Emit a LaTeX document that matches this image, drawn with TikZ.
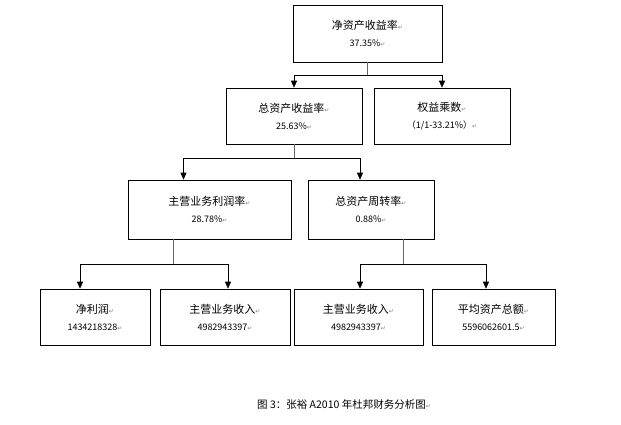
\documentclass[tikz,border=0pt]{standalone}
\usepackage{fontspec}
\setmainfont{Liberation Sans}
\newfontfamily\cjk{Noto Sans CJK SC}
\newfontfamily\dv{DejaVu Sans}
\usetikzlibrary{arrows.meta}
\newcommand{\pmark}{{\dv\color{gray}\fontsize{6}{6}\selectfont ↵}}
\begin{document}
\begin{tikzpicture}[x=1pt,y=-1pt,
  box/.style={draw,line width=0.6pt,inner sep=0pt,align=center,font=\cjk\fontsize{11}{17}\selectfont},
  num/.style={font=\fontsize{9}{11}\selectfont},
  conn/.style={line width=0.6pt,-{Triangle[length=7pt,width=6pt]}},
  stem/.style={line width=0.6pt,gray!80!black}]
\useasboundingbox (0,0) rectangle (621,424);
\node[box,minimum width=149,minimum height=57] (a) at (367.5,33.5) {净资产收益率\pmark\\{\fontsize{9}{11}\selectfont 37.35\%}\pmark};
\node[box,minimum width=136,minimum height=56] (b) at (294,116) {总资产收益率\pmark\\{\fontsize{9}{11}\selectfont 25.63\%}\pmark};
\node[box,minimum width=136,minimum height=56] (c) at (442,116) {权益乘数\pmark\\{\fontsize{9}{11}\selectfont （1/1-33.21\%）}\pmark};
\node[box,minimum width=163,minimum height=59] (d) at (209.5,209.5) {主营业务利润率\pmark\\{\fontsize{9}{11}\selectfont 28.78\%}\pmark};
\node[box,minimum width=126,minimum height=59] (e) at (371,209.5) {总资产周转率\pmark\\{\fontsize{9}{11}\selectfont 0.88\%}\pmark};
\node[box,minimum width=110,minimum height=56] (f) at (95,317) {净利润\pmark\\{\fontsize{9}{11}\selectfont 1434218328}\pmark};
\node[box,minimum width=130,minimum height=56] (g) at (225,317) {主营业务收入\pmark\\{\fontsize{9}{11}\selectfont 4982943397}\pmark};
\node[box,minimum width=129,minimum height=56] (h) at (358.5,317) {主营业务收入\pmark\\{\fontsize{9}{11}\selectfont 4982943397}\pmark};
\node[box,minimum width=123,minimum height=56] (i) at (493.5,317) {平均资产总额\pmark\\{\fontsize{9}{11}\selectfont 5596062601.5}\pmark};
\node[font=\cjk\fontsize{10.5}{12}\selectfont] (cap) at (344,405) {图 3：张裕 A2010 年杜邦财务分析图\pmark};
\coordinate (ja) at (367,75);
\coordinate (jb) at (294,158);
\coordinate (jd) at (173,264);
\coordinate (je) at (403,264);
\draw[stem] (a.south -| ja) -- (ja);
\draw[conn] (ja) -| (b.north);
\draw[conn] (ja) -| (c.north);
\draw[stem] (b.south) -- (jb);
\draw[conn] (jb) -| ([xshift=-26pt]d.north);
\draw[conn] (jb) -| ([xshift=-11pt]e.north);
\draw[stem] (d.south -| jd) -- (jd);
\draw[conn] (jd) -| ([xshift=-15pt]f.north);
\draw[conn] (jd) -| ([xshift=3pt]g.north);
\draw[stem] (e.south -| je) -- (je);
\draw[conn] (je) -| ([xshift=1.5pt]h.north);
\draw[conn] (je) -| ([xshift=-7.5pt]i.north);
\end{tikzpicture}
\end{document}
